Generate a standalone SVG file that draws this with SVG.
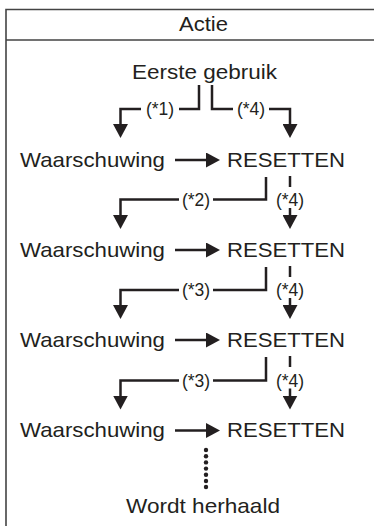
<svg xmlns="http://www.w3.org/2000/svg" width="374" height="526" viewBox="0 0 374 526">
<style>
.t{font-family:"Liberation Sans",Arial,sans-serif;font-size:21px;fill:#231f20}
.l{font-family:"Liberation Sans",Arial,sans-serif;font-size:17.5px;fill:#231f20;text-anchor:middle}
.c{stroke:#231f20;stroke-width:2.5;fill:none}
.f{stroke:#444;stroke-width:1.6;fill:none}
</style>
<defs>
<marker id="ah" viewBox="0 0 14 15" refX="2" refY="7.5" markerWidth="14" markerHeight="15" markerUnits="userSpaceOnUse" orient="auto">
<path d="M0,0 L14,7.5 L0,15 z" fill="#231f20"/>
</marker>
</defs>
<g id="frame">
<path class="f" d="M6,526 V9.5 H374 M6,40 H374"/>
<text class="t" x="203.5" y="31" text-anchor="middle" textLength="49" lengthAdjust="spacingAndGlyphs">Actie</text>
</g>
<g id="start"><text class="t" x="132" y="79" textLength="145" lengthAdjust="spacingAndGlyphs">Eerste gebruik</text></g>
<g id="w1"><text class="t" x="20" y="166.5" textLength="145" lengthAdjust="spacingAndGlyphs">Waarschuwing</text></g>
<g id="r1"><text class="t" x="227" y="166.5" textLength="118" lengthAdjust="spacingAndGlyphs">RESETTEN</text></g>
<g id="w2"><text class="t" x="20" y="256.5" textLength="145" lengthAdjust="spacingAndGlyphs">Waarschuwing</text></g>
<g id="r2"><text class="t" x="227" y="256.5" textLength="118" lengthAdjust="spacingAndGlyphs">RESETTEN</text></g>
<g id="w3"><text class="t" x="20" y="346.5" textLength="145" lengthAdjust="spacingAndGlyphs">Waarschuwing</text></g>
<g id="r3"><text class="t" x="227" y="346.5" textLength="118" lengthAdjust="spacingAndGlyphs">RESETTEN</text></g>
<g id="w4"><text class="t" x="20" y="437" textLength="145" lengthAdjust="spacingAndGlyphs">Waarschuwing</text></g>
<g id="r4"><text class="t" x="227" y="437" textLength="118" lengthAdjust="spacingAndGlyphs">RESETTEN</text></g>
<g id="end"><text class="t" x="126" y="513" textLength="154" lengthAdjust="spacingAndGlyphs">Wordt herhaald</text></g>
<g id="connectors">
<!-- top fork -->
<path class="c" d="M199,85 V109 H179"/>
<path class="c" d="M141,109 H120.5 V126" marker-end="url(#ah)"/>
<text class="l" x="160" y="115">(*1)</text>
<path class="c" d="M212,85 V109 H233"/>
<path class="c" d="M269,109 H290 V126" marker-end="url(#ah)"/>
<text class="l" x="251" y="115">(*4)</text>
<!-- horizontal arrows -->
<path class="c" d="M175,160 H208" marker-end="url(#ah)"/>
<path class="c" d="M175,250 H208" marker-end="url(#ah)"/>
<path class="c" d="M175,340 H208" marker-end="url(#ah)"/>
<path class="c" d="M175,430.5 H208" marker-end="url(#ah)"/>
<!-- row 1 to 2 -->
<path class="c" d="M266,177 V199.5 H213"/>
<path class="c" d="M179,199.5 H120.5 V217" marker-end="url(#ah)"/>
<text class="l" x="196" y="205.5">(*2)</text>
<path class="c" d="M290,176 V187"/>
<text class="l" x="290" y="205.5">(*4)</text>
<path class="c" d="M290,208 V217" marker-end="url(#ah)"/>
<!-- row 2 to 3 -->
<path class="c" d="M266,267 V290 H213"/>
<path class="c" d="M179,290 H120.5 V307" marker-end="url(#ah)"/>
<text class="l" x="196" y="296">(*3)</text>
<path class="c" d="M290,266 V277"/>
<text class="l" x="290" y="296">(*4)</text>
<path class="c" d="M290,298 V307" marker-end="url(#ah)"/>
<!-- row 3 to 4 -->
<path class="c" d="M266,357 V380.5 H213"/>
<path class="c" d="M179,380.5 H120.5 V397.5" marker-end="url(#ah)"/>
<text class="l" x="196" y="386.5">(*3)</text>
<path class="c" d="M290,356 V367"/>
<text class="l" x="290" y="386.5">(*4)</text>
<path class="c" d="M290,388.5 V397.5" marker-end="url(#ah)"/>
<!-- dots -->
<g fill="#231f20">
<circle cx="206" cy="450" r="2.2"/>
<circle cx="206" cy="456.2" r="2.2"/>
<circle cx="206" cy="462.4" r="2.2"/>
<circle cx="206" cy="468.6" r="2.2"/>
<circle cx="206" cy="474.8" r="2.2"/>
<circle cx="206" cy="481" r="2.2"/>
<circle cx="206" cy="487" r="2.2"/>
</g>
</g>
</svg>
